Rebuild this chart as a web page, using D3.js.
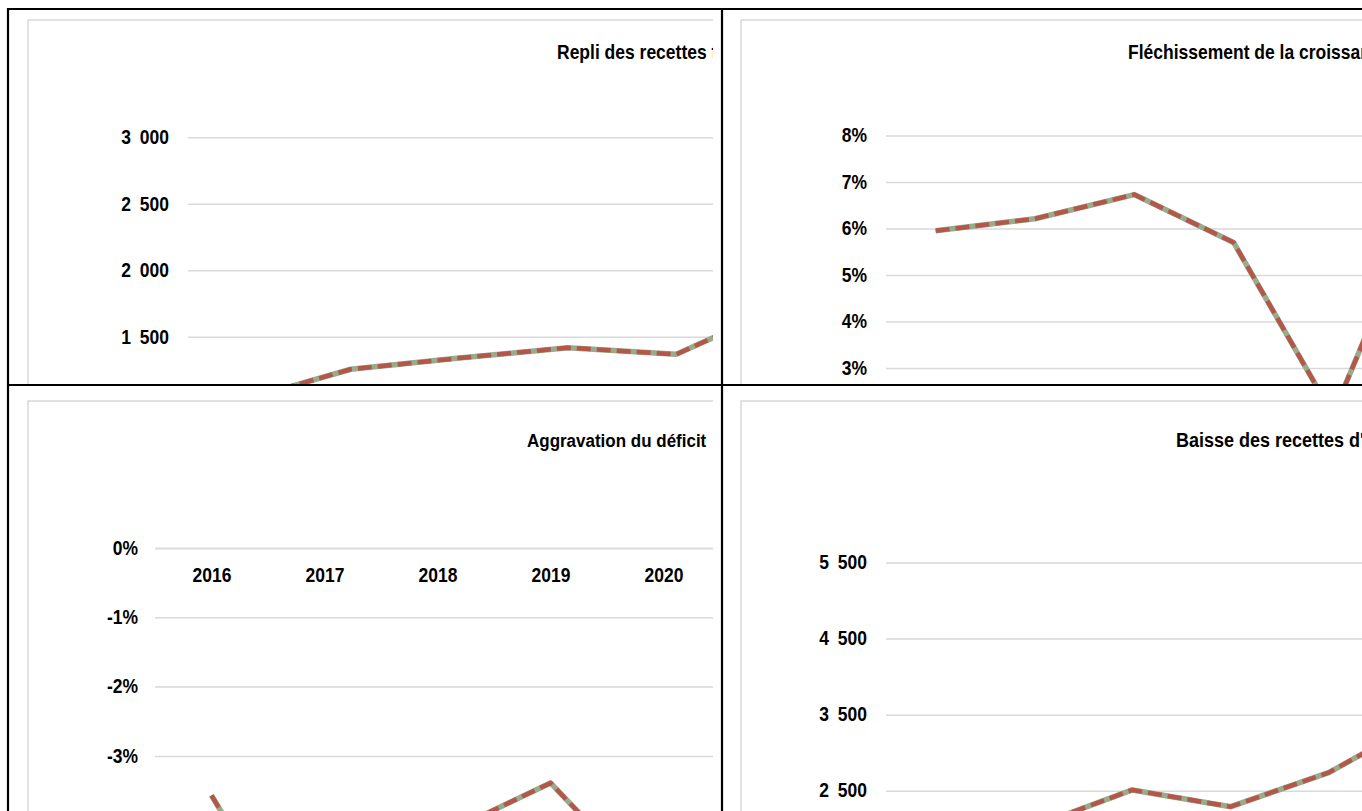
<!DOCTYPE html>
<html>
<head>
<meta charset="utf-8">
<script src="https://cdn.jsdelivr.net/npm/d3@7"></script>
<style>
  html, body { margin: 0; padding: 0; background: #fff; }
  svg { display: block; font-family: "Liberation Sans", Arial, sans-serif; font-weight: bold; }
</style>
</head>
<body>
<script>
// ---- Data ----
// Recettes fiscales
const recettesYears  = ["2015", "2016", "2017", "2018", "2019", "2020"];
const recettesValues = [1022, 1256, 1340, 1418, 1368, 1737];
const recettesTicks  = [0, 500, 1000, 1500, 2000, 2500, 3000];

// Croissance du PIB (%)
const croissanceYears  = ["2015", "2016", "2017", "2018", "2019", "2020"];
const croissanceValues = [5.95, 6.21, 6.73, 5.70, 2.0, 7.1];
const croissanceTicks  = [0, 1, 2, 3, 4, 5, 6, 7, 8];

// Solde budgétaire (% du PIB)
const deficitYears  = ["2016", "2017", "2018", "2019", "2020"];
const deficitValues = [-3.57, -6.3, -4.17, -3.39, -5.1];
const deficitTicks  = [0, -1, -2, -3, -4, -5, -6, -7];

// Recettes d'exportation
const exportYears  = ["2015", "2016", "2017", "2018", "2019", "2020"];
const exportValues = [1900, 2030, 2510, 2290, 2742, 3460];
const exportTicks  = [500, 1500, 2500, 3500, 4500, 5500];

// Panel titles
const titles = [
  "Repli des recettes fiscales",
  "Fléchissement de la croissance",
  "Aggravation du déficit",
  "Baisse des recettes d'exportation"
];

// ---- Formatting ----
const fr = d3.formatLocale({ decimal: ",", thousands: "\u2002", grouping: [3], currency: ["", " €"] });
const fmtThousands = fr.format(",");
const fmtPct = d => d + "%";

// ---- Layout ----
const W = 1362, H = 811;
const GRID = "#d9d9d9", GREEN = "#9aab8c", RED = "#b3574a";
const STRETCH = 1.12;   // glyphs are drawn slightly taller than wide

const panels = [
  { cats: recettesYears, vals: recettesValues, ticks: recettesTicks, fmt: fmtThousands, title: titles[0],
    clip: [9, 10, 704, 374], box: [28, 20], left: 188, top: 137.3, unit: 66.5 / 500, step: 108.5,
    domain: [0, 3000], titlePos: [557, 52], titleSize: 17.5, pad: 19, xAxisAtZero: false },
  { cats: croissanceYears, vals: croissanceValues, ticks: croissanceTicks, fmt: fmtPct, title: titles[1],
    clip: [723, 10, 639, 374], box: [741, 20], left: 886, top: 135.5, unit: 46.5, step: 99.3,
    domain: [0, 8], titlePos: [1128, 52], titleSize: 17.5, pad: 19, xAxisAtZero: false },
  { cats: deficitYears, vals: deficitValues, ticks: deficitTicks, fmt: fmtPct, title: titles[2],
    clip: [9, 386, 704, 425], box: [28, 401], left: 155, top: 548, unit: 69.3, step: 113,
    domain: [-7, 0], titlePos: [527, 440], titleSize: 17, pad: 17, xAxisAtZero: true },
  { cats: exportYears, vals: exportValues, ticks: exportTicks, fmt: fmtThousands, title: titles[3],
    clip: [723, 386, 639, 425], box: [741, 401], left: 886, top: 562.5, unit: 76.07 / 1000, step: 98.5,
    domain: [500, 5500], titlePos: [1176, 440], titleSize: 18, pad: 19, xAxisAtZero: false }
];

const svg = d3.select("body").append("svg")
  .attr("width", W).attr("height", H)
  .attr("viewBox", `0 0 ${W} ${H}`);

const defs = svg.append("defs");

function styleText(sel, size) {
  sel.attr("font-size", size)
    .attr("font-family", "Liberation Sans, Arial, sans-serif")
    .attr("font-weight", "bold")
    .attr("fill", "#000");
}

panels.forEach((p, i) => {
  const [cx, cy, cw, ch] = p.clip;
  defs.append("clipPath").attr("id", "cell" + i)
    .append("rect").attr("x", cx).attr("y", cy).attr("width", cw).attr("height", ch);

  const g = svg.append("g").attr("clip-path", `url(#cell${i})`);

  const plotW = p.step * p.cats.length;
  const plotH = (p.domain[1] - p.domain[0]) * p.unit;

  const x = d3.scalePoint().domain(p.cats).range([p.left, p.left + plotW]).padding(0.5);
  const y = d3.scaleLinear().domain(p.domain).range([p.top + plotH, p.top]);

  // chart area frame
  g.append("rect")
    .attr("x", p.box[0]).attr("y", p.box[1])
    .attr("width", p.left + plotW + 40 - p.box[0])
    .attr("height", p.top + plotH + 80 - p.box[1])
    .attr("fill", "#fff").attr("stroke", GRID).attr("stroke-width", 1.5);

  // title
  g.append("text")
    .attr("transform", `translate(${p.titlePos[0]},${p.titlePos[1]}) scale(1,${STRETCH})`)
    .attr("dy", "0.35em")
    .call(styleText, p.titleSize)
    .text(p.title);

  // value axis with gridlines
  const yAxis = g.append("g")
    .attr("transform", `translate(${p.left},0)`)
    .call(d3.axisLeft(y).tickValues(p.ticks).tickFormat(p.fmt).tickSize(-plotW).tickPadding(p.pad));
  yAxis.select(".domain").remove();
  yAxis.selectAll(".tick line").attr("stroke", GRID).attr("stroke-width", 1.5);
  yAxis.selectAll(".tick text")
    .call(styleText, 17.5)
    .attr("transform", `scale(1,${STRETCH})`);

  // category axis
  const xAxisY = p.xAxisAtZero ? y(0) : y(p.domain[0]);
  const xAxis = g.append("g")
    .attr("transform", `translate(0,${xAxisY})`)
    .call(d3.axisBottom(x).tickSize(0).tickPadding(18));
  xAxis.select(".domain").attr("stroke", GRID).attr("stroke-width", 1.5);
  xAxis.selectAll(".tick text")
    .call(styleText, 17.5)
    .attr("transform", `scale(1,${STRETCH})`);

  // series line: solid underlay with dashed overlay
  const line = d3.line().x((d, k) => x(p.cats[k])).y(d => y(d));
  g.append("path").datum(p.vals)
    .attr("d", line).attr("fill", "none")
    .attr("stroke", GREEN).attr("stroke-width", 5.5).attr("stroke-linejoin", "round");
  g.append("path").datum(p.vals)
    .attr("d", line).attr("fill", "none")
    .attr("stroke", RED).attr("stroke-width", 4.5)
    .attr("stroke-dasharray", "14,6").attr("stroke-linejoin", "round");
});

// table grid lines
const frame = svg.append("g").attr("stroke", "#000").attr("stroke-width", 2.2).attr("fill", "none");
frame.append("line").attr("x1", 7).attr("x2", W).attr("y1", 9).attr("y2", 9);
frame.append("line").attr("x1", 8).attr("x2", 8).attr("y1", 8).attr("y2", H);
frame.append("line").attr("x1", 722).attr("x2", 722).attr("y1", 8).attr("y2", H);
frame.append("line").attr("x1", 7).attr("x2", W).attr("y1", 385).attr("y2", 385);
</script>
</body>
</html>
